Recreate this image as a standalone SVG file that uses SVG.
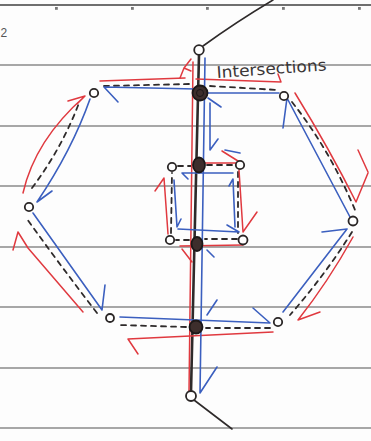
<svg xmlns="http://www.w3.org/2000/svg" width="371" height="441" viewBox="0 0 371 441">
<style>
.paper{stroke:#8a8a8a;stroke-width:1.3;fill:none}
.dot{fill:#777}
.blk{stroke:#2e2a2a;fill:none;stroke-linecap:round;stroke-linejoin:round}
.dash{stroke:#2e2a2a;fill:none;stroke-width:1.8;stroke-dasharray:5 5;stroke-linecap:round}
.red{stroke:#e0393f;fill:none;stroke-width:1.5;stroke-linecap:round;stroke-linejoin:round}
.blue{stroke:#3b5fbf;fill:none;stroke-width:1.6;stroke-linecap:round;stroke-linejoin:round}
.open{fill:#fff;stroke:#2a2626;stroke-width:1.8}
.hub{fill:#3d2e2c;stroke:#1c1818;stroke-width:1.8}
.lbl{font-family:"DejaVu Sans","Liberation Sans",sans-serif;font-size:16px;fill:#3a3636}
</style>
<rect width="371" height="441" fill="#fdfdfd"/>
<g id="paper">
<line x1="0" y1="5" x2="371" y2="5" stroke="#6f6f6f" stroke-width="2.2"/>
<line class="paper" x1="0" y1="65" x2="371" y2="65"/>
<line class="paper" x1="0" y1="126" x2="371" y2="126"/>
<line class="paper" x1="0" y1="186" x2="371" y2="186"/>
<line class="paper" x1="0" y1="247" x2="371" y2="247"/>
<line class="paper" x1="0" y1="307" x2="371" y2="307"/>
<line class="paper" x1="0" y1="368" x2="371" y2="368"/>
<line class="paper" x1="0" y1="428" x2="371" y2="428"/>
<rect class="dot" x="55" y="7" width="2.8" height="2.8"/>
<rect class="dot" x="131" y="7" width="2.8" height="2.8"/>
<rect class="dot" x="206" y="7" width="2.8" height="2.8"/>
<rect class="dot" x="282" y="7" width="2.8" height="2.8"/>
<rect class="dot" x="358" y="7" width="2.8" height="2.8"/>
<text x="0.5" y="37" font-family="Liberation Sans, sans-serif" font-size="12" fill="#555">2</text>
</g>
<g id="connectors">
<path class="blk" stroke-width="2.6" d="M199,55 L195,220 L191,392"/>
<path class="blk" stroke-width="1.6" d="M203,46 Q236,22 273,0"/>
<path class="blk" stroke-width="1.6" d="M194,400 L232,429"/>
<path class="dash" d="M104,86 L190,84"/>
<path class="dash" d="M210,86 L278,90"/>
<path class="dash" d="M292,102 Q330,150 355,210"/>
<path class="dash" d="M352,232 Q325,275 290,315"/>
<path class="dash" d="M270,328 L206,328"/>
<path class="dash" d="M186,327 L120,325"/>
<path class="dash" d="M97,313 Q60,265 27,219"/>
<path class="dash" d="M32,188 Q62,148 79,103"/>
<path class="dash" d="M178,166 L191,166"/>
<path class="dash" d="M207,165 L234,165"/>
<path class="dash" d="M238,172 L238,233"/>
<path class="dash" d="M237,239 L205,239"/>
<path class="dash" d="M189,240 L176,240"/>
<path class="dash" d="M171,233 L172,173"/>
<path class="red" d="M100,81 L185,78"/>
<path class="red" d="M180,78 L184,68 L191,71 M184,68 L191,59"/>
<path class="red" d="M196,79 L281,82 L278,74"/>
<path class="red" d="M295,93 Q330,150 356,202 L368,173"/>
<path class="red" d="M358,150 L368,172"/>
<path class="red" d="M353,237 Q328,282 298,320 L320,312"/>
<path class="red" d="M273,332 L128,339 L138,354"/>
<path class="red" d="M83,312 L28,248 L18,232 L13,250"/>
<path class="red" d="M23,193 Q35,140 85,96 L68,101 M85,96 L77,104"/>
<path class="red" d="M193,62 L189,392"/>
<path class="red" d="M200,163 L237,163 M222,151 L238,161"/>
<path class="red" d="M239,170 L243,232 L257,212"/>
<path class="red" d="M243,245 L180,246 M182,249 L192,262"/>
<path class="red" d="M168,234 L164,178 L155,191"/>
<path class="blue" d="M279,93 L205,93 M196,89 L104,87 L118,102"/>
<path class="blue" d="M208,98 L221,107"/>
<path class="blue" d="M90,99 Q72,150 37,202 L52,191"/>
<path class="blue" d="M33,213 L102,310 L105,285"/>
<path class="blue" d="M120,317 L270,323 L253,308"/>
<path class="blue" d="M283,312 L347,229 L322,232"/>
<path class="blue" d="M350,217 L287,98 L283,128"/>
<path class="blue" d="M205,58 L200,393 L217,367"/>
<path class="blue" d="M210,103 L210,150 L218,139"/>
<path class="blue" d="M207,315 L217,300"/>
<path class="blue" d="M225,150 L240,153"/>
<path class="blue" d="M233,173 L182,173 L188,179"/>
<path class="blue" d="M174,180 L177,227 L181,219"/>
<path class="blue" d="M178,229 L239,232 L227,225"/>
<path class="blue" d="M235,227 L233,179 L229,186"/>
<path class="blue" d="M207,250 L214,257"/>
</g>
<g id="n_top"><circle class="open" cx="199" cy="50" r="4.8"/></g>
<g id="n_i1"><circle class="hub" cx="200" cy="93" r="7.5"/><circle cx="200" cy="93" r="3.5" fill="none" stroke="#1c1818" stroke-width="1"/></g>
<g id="n_tl"><circle class="open" cx="94" cy="93" r="4.2"/></g>
<g id="n_tr"><circle class="open" cx="284" cy="96" r="4.2"/></g>
<g id="n_r"><circle class="open" cx="353" cy="221" r="4.5"/></g>
<g id="n_br"><circle class="open" cx="278" cy="322" r="4.2"/></g>
<g id="n_i4"><circle class="hub" cx="196" cy="327" r="6.5"/></g>
<g id="n_bl"><circle class="open" cx="110" cy="318" r="4"/></g>
<g id="n_l"><circle class="open" cx="29" cy="207" r="4.2"/></g>
<g id="n_bottom"><circle class="open" cx="191" cy="396" r="5"/></g>
<g id="n_sq_tl"><circle class="open" cx="172" cy="167" r="4.2"/></g>
<g id="n_i2"><ellipse class="hub" cx="199" cy="165" rx="6" ry="7.5"/></g>
<g id="n_sq_tr"><circle class="open" cx="240" cy="165" r="4.2"/></g>
<g id="n_sq_br"><circle class="open" cx="243" cy="240" r="4.5"/></g>
<g id="n_i3"><ellipse class="hub" cx="197" cy="244" rx="5.5" ry="7"/></g>
<g id="n_sq_bl"><circle class="open" cx="170" cy="240" r="4.2"/></g>
<g id="label"><text class="lbl" x="217" y="78" textLength="110" lengthAdjust="spacingAndGlyphs" transform="rotate(-4 217 78)">Intersections</text></g>
</svg>
